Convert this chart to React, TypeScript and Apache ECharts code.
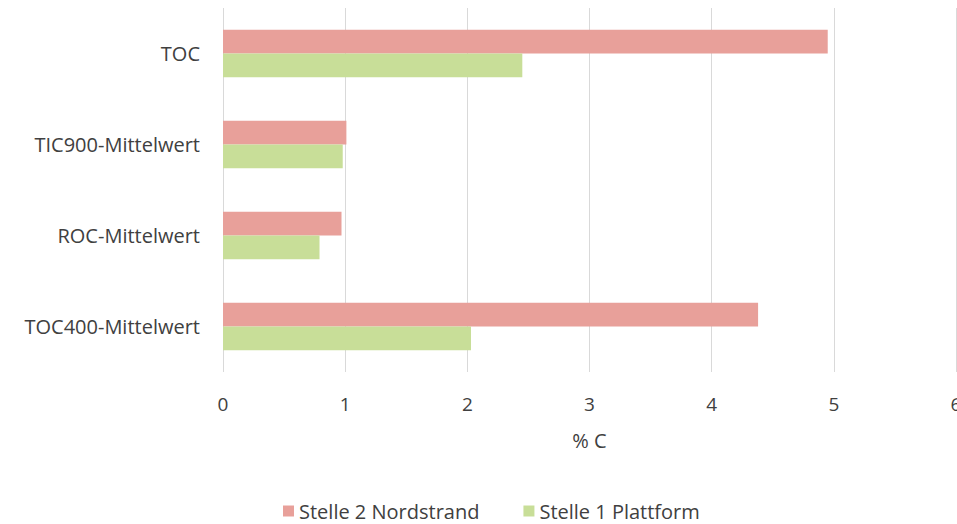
import React, { useEffect, useRef } from "react";
import * as echarts from "echarts";

// Kategorien von oben nach unten
const categories = ["TOC", "TIC900-Mittelwert", "ROC-Mittelwert", "TOC400-Mittelwert"];
const seriesNames = ["Stelle 2 Nordstrand", "Stelle 1 Plattform"];
const nordstrand = [4.95, 1.01, 0.97, 4.38];
const plattform = [2.45, 0.98, 0.79, 2.03];
const xTicks = [0, 1, 2, 3, 4, 5, 6];
const xAxisTitle = "% C";

const FONT = "'Open Sans', Lato, sans-serif";
const TEXT = "#404040";

export default function App() {
  const ref = useRef<HTMLDivElement>(null);

  useEffect(() => {
    if (!ref.current) return;
    document.documentElement.style.overflow = "hidden";
    document.body.style.margin = "0";
    const chart = echarts.init(ref.current, undefined, { renderer: "svg" });
    chart.setOption({
      animation: false,
      backgroundColor: "#ffffff",
      textStyle: { fontFamily: FONT },
      grid: {
        left: 223,
        right: 1,
        top: 8,
        bottom: 152,
        containLabel: false,
        outerBoundsMode: "none",
      },
      legend: {
        data: seriesNames,
        left: 278,
        top: 496,
        icon: "rect",
        itemWidth: 11,
        itemHeight: 11,
        itemGap: 44,
        textStyle: { fontFamily: FONT, fontSize: 20, color: TEXT },
      },
      xAxis: {
        type: "value",
        min: xTicks[0],
        max: xTicks[xTicks.length - 1],
        interval: 1,
        name: xAxisTitle,
        nameLocation: "middle",
        nameGap: 58,
        nameTextStyle: { fontFamily: FONT, fontSize: 20, color: TEXT },
        axisLine: { show: false },
        axisTick: { show: false },
        axisLabel: { margin: 22, fontFamily: FONT, fontSize: 19, color: TEXT },
        splitLine: { show: true, lineStyle: { color: "#d9d9d9", width: 1 } },
      },
      yAxis: {
        type: "category",
        data: categories,
        inverse: true,
        axisLine: { show: false },
        axisTick: { show: false },
        axisLabel: { margin: 23, fontFamily: FONT, fontSize: 20, color: TEXT },
        splitLine: { show: false },
      },
      series: [
        {
          name: seriesNames[0],
          type: "bar",
          data: nordstrand,
          barGap: "0%",
          barCategoryGap: "48%",
          itemStyle: { color: "#e8a09a" },
        },
        {
          name: seriesNames[1],
          type: "bar",
          data: plattform,
          barGap: "0%",
          barCategoryGap: "48%",
          itemStyle: { color: "#c8de98" },
        },
      ],
    });
    return () => chart.dispose();
  }, []);

  return (
    <div
      ref={ref}
      style={{ position: "absolute", left: 0, top: 0, width: 957, height: 524 }}
    />
  );
}
